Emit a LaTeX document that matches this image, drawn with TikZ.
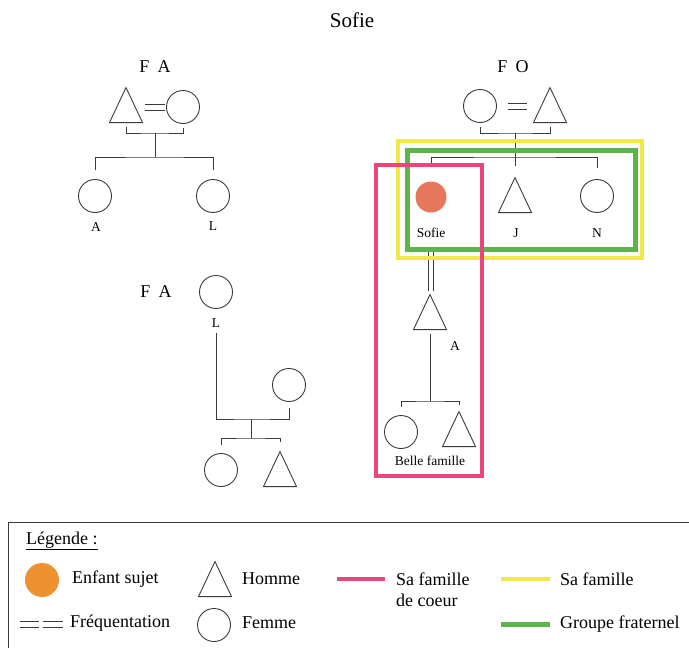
\documentclass[tikz,border=0pt]{standalone}
\usepackage{fontspec}
\setmainfont{Liberation Serif}
\usetikzlibrary{shapes.geometric, calc}

\definecolor{coeur}{HTML}{E9467C}
\definecolor{famille}{HTML}{EFE845}
\definecolor{fratrie}{HTML}{5BB548}
\definecolor{sujet}{HTML}{E6765C}
\definecolor{sujetleg}{HTML}{EE9231}
\definecolor{trait}{HTML}{3A3A3A}

\begin{document}
\begin{tikzpicture}[x=1pt, y=-1pt,
  femme/.style={circle, draw=trait, line width=0.9pt, minimum size=33pt, inner sep=0pt},
  homme/.style={isosceles triangle, isosceles triangle apex angle=50, isosceles triangle stretches,
    shape border rotate=90, draw=trait, line width=0.9pt, minimum width=33pt, minimum height=35pt,
    inner sep=0pt, anchor=lower side},
  lien/.style={draw=trait, line width=0.9pt},
  wed/.style={draw=trait, line width=0.9pt},
  nom/.style={font=\fontsize{13.5}{15}\selectfont},
  titre/.style={font=\fontsize{18}{20}\selectfont},
  leg/.style={font=\fontsize{18}{21}\selectfont, anchor=west, inner sep=0pt},
  cadre/.style={line width=4.5pt}]
\useasboundingbox (0,0) rectangle (689,648);

\node (titre) at (352,20) [font=\fontsize{21}{24}\selectfont] {Sofie};
\node (fa) at (155,67) [titre] {F\hspace{0.45em}A};
\node (fo) at (513,67) [titre] {F\hspace{0.45em}O};

\node (pA) at (126,123) [homme] {};
\node (mA) at (183,107) [femme] {};
\node (cA) at (95,196) [femme] {};
\node (cL) at (213,196) [femme] {};
\node (lA) at (96,227) [nom] {A};
\node (lL) at (213,226) [nom] {L};
\coordinate (jA) at (155,133);
\coordinate (sA) at (155,157);

\draw[wed, shorten <=19pt, shorten >=18pt] ($(pA.lower side |- mA)+(0,-3)$) -- ($(mA)+(0,-3)$);
\draw[wed, shorten <=19pt, shorten >=18pt] ($(pA.lower side |- mA)+(0,3)$) -- ($(mA)+(0,3)$);
\draw[lien] ($(pA.lower side)+(0,4)$) |- (jA) -| ($(mA.south)+(0,4)$);
\draw[lien] (jA) -- (sA);
\draw[lien] ($(cA.north)+(0,-9)$) |- (sA) -| ($(cL.north)+(0,-9)$);

\node (oC) at (480,106) [femme] {};
\node (oT) at (550,123) [homme] {};
\node (sofie) at (431,197) [circle, fill=sujet, minimum size=31pt, inner sep=0pt] {};
\node (jT) at (515,213) [homme] {};
\node (nC) at (597,196) [femme] {};
\node (lS) at (431,233) [nom] {Sofie};
\node (lJ) at (516,233) [nom] {J};
\node (lN) at (597,233) [nom] {N};
\coordinate (jO) at (515,133);
\coordinate (sO) at (515,157);

\draw[wed, shorten <=28pt, shorten >=23pt] ($(oC)+(0,-3)$) -- ($(oT.lower side |- oC)+(0,-3)$);
\draw[wed, shorten <=28pt, shorten >=23pt] ($(oC)+(0,3)$) -- ($(oT.lower side |- oC)+(0,3)$);
\draw[lien] ($(oC.south)+(0,4)$) |- (jO) -| ($(oT.lower side)+(0,4)$);
\draw[lien] (jO) -- ($(jT.apex)+(0,-10)$);
\draw[lien] ($(sofie.north)+(0,-14)$) |- (sO) -| ($(nC.north)+(0,-11)$);

\node (aT) at (430,330) [homme] {};
\node (lA2) at (455,346) [nom] {A};
\node (bC) at (401,432) [femme] {};
\node (bT) at (459,447) [homme] {};
\node (lB) at (430,461) [nom] {Belle famille};
\coordinate (sB) at (430,401);

\draw[wed, shorten <=54pt, shorten >=2pt] ($(sofie)+(-2.5,0)$) -- ($(sofie |- aT.apex)+(-2.5,0)$);
\draw[wed, shorten <=54pt, shorten >=2pt] ($(sofie)+(2.5,0)$) -- ($(sofie |- aT.apex)+(2.5,0)$);
\draw[lien] ($(aT.lower side)+(0,4)$) -- (sB);
\draw[lien] ($(bC.north)+(0,-8)$) |- (sB) -| ($(bT.apex)+(0,-5)$);

\node (fa2) at (156,292) [titre] {F\hspace{0.45em}A};
\node (cL2) at (216,292) [femme] {};
\node (lL2) at (216,323) [nom] {L};
\node (sp2) at (289,385) [femme] {};
\node (c2) at (221,470) [femme] {};
\node (t2) at (280,487) [homme] {};
\coordinate (j2) at (251,419);
\coordinate (s2) at (251,438);

\draw[lien] ($(lL2.south)+(0,2)$) |- (j2) -| ($(sp2.south)+(0,6)$);
\draw[lien] (j2) -- (s2);
\draw[lien] ($(c2.north)+(0,-8)$) |- (s2) -| ($(t2.apex)+(0,-8)$);

\draw[cadre, famille] (398,141) rectangle (642,258);
\draw[cadre, fratrie, line width=5pt] (407,150) rectangle (635,249);
\draw[cadre, coeur] (376,165) rectangle (482,476);

\draw[trait, line width=1pt] (8,648) -- (8,522) -- (689,522);
\node (lgTitre) at (26,541) [leg] {\underline{Légende :}};
\node (lgSujet) at (42,580) [circle, fill=sujetleg, minimum size=34pt, inner sep=0pt] {};
\node (lgSujetT) at (72,579) [leg] {Enfant sujet};
\node (lgHomme) at (215,597) [homme] {};
\node (lgHommeT) at (242,579) [leg] {Homme};
\coordinate (lgCoeurA) at (337,579);
\coordinate (lgCoeurB) at (385,579);
\draw[cadre, coeur] (lgCoeurA) -- (lgCoeurB);
\node (lgCoeurT) at (396,590) [leg, align=left] {Sa famille\\de coeur};
\coordinate (lgFamA) at (501,579);
\coordinate (lgFamB) at (550,579);
\draw[cadre, famille, line width=4pt] (lgFamA) -- (lgFamB);
\node (lgFamT) at (560,579) [leg] {Sa famille};

\coordinate (lgFreqA) at (20,621);
\coordinate (lgFreqB) at (39,621);
\coordinate (lgFreqC) at (43,621);
\coordinate (lgFreqD) at (63,621);
\draw[wed] (lgFreqA) -- (lgFreqB) (lgFreqC) -- (lgFreqD);
\draw[wed] ($(lgFreqA)+(0,6)$) -- ($(lgFreqB)+(0,6)$) ($(lgFreqC)+(0,6)$) -- ($(lgFreqD)+(0,6)$);
\node (lgFreqT) at (70,623) [leg] {Fréquentation};
\node (lgFemme) at (214,625) [femme] {};
\node (lgFemmeT) at (242,623) [leg] {Femme};
\coordinate (lgFratA) at (501,624);
\coordinate (lgFratB) at (550,624);
\draw[cadre, fratrie, line width=5pt] (lgFratA) -- (lgFratB);
\node (lgFratT) at (560,624) [leg] {Groupe fraternel};
\end{tikzpicture}
\end{document}
